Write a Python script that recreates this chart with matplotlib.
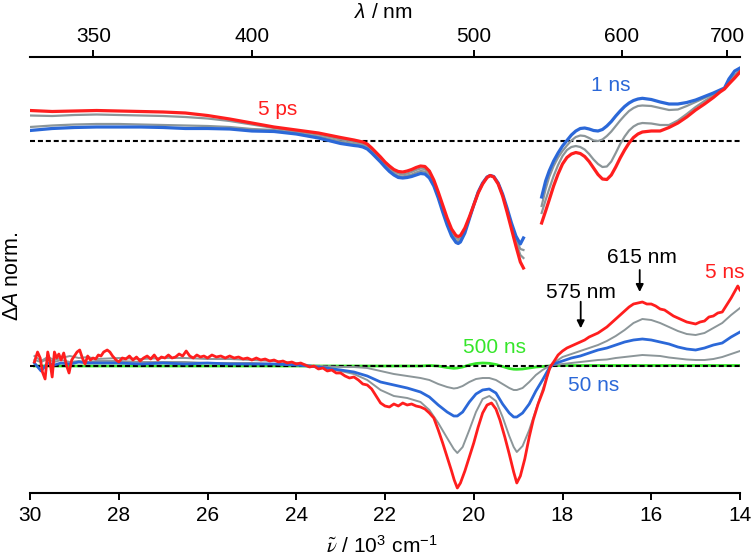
import numpy as np
import matplotlib
matplotlib.use("Agg")
import matplotlib.pyplot as plt

plt.rcParams['font.family'] = ['Liberation Sans', 'DejaVu Sans']
plt.rcParams['mathtext.fontset'] = 'custom'
plt.rcParams['mathtext.rm'] = 'Liberation Sans'
plt.rcParams['mathtext.it'] = 'Liberation Sans:italic'

# ---------------- data ----------------
x_ticks = [30, 28, 26, 24, 22, 20, 18, 16, 14]
lam_ticks = [350, 400, 500, 600, 700]

# top panel (5 ps ... 1 ns), blue-side segment
nu_tl = [30.0, 29.5, 29.0, 28.5, 28.0, 27.5, 27.0, 26.5, 26.0, 25.5,
         25.0, 24.5, 24.0, 23.5, 23.0,
         22.7, 22.6, 22.5, 22.4, 22.3, 22.2, 22.1, 22.0, 21.9, 21.8,
         21.7, 21.6, 21.5, 21.4, 21.3, 21.2, 21.1, 21.0, 20.9, 20.8,
         20.7, 20.6, 20.5, 20.4, 20.35, 20.3, 20.2, 20.1, 20.0, 19.9,
         19.8, 19.7, 19.63, 19.55, 19.45, 19.35, 19.25, 19.15, 19.05, 18.95,
         18.88]
red_tl = [0.305, 0.295, 0.300, 0.305, 0.300, 0.295, 0.290, 0.280, 0.255, 0.220,
          0.180, 0.140, 0.110, 0.080, 0.035,
          0.010, 0.000, -0.010, -0.030, -0.070, -0.115, -0.160, -0.210, -0.250, -0.285,
          -0.305, -0.310, -0.300, -0.285, -0.265, -0.250, -0.255, -0.300, -0.390, -0.510,
          -0.640, -0.770, -0.880, -0.945, -0.955, -0.945, -0.870, -0.760, -0.640, -0.520,
          -0.430, -0.365, -0.345, -0.360, -0.430, -0.550, -0.710, -0.880, -1.050, -1.210,
          -1.270]
grayA_tl = [0.255, 0.250, 0.260, 0.265, 0.260, 0.255, 0.250, 0.240, 0.225, 0.200,
            0.165, 0.130, 0.095, 0.065, 0.015,
            -0.010, -0.020, -0.030, -0.050, -0.090, -0.135, -0.180, -0.230, -0.270, -0.305,
            -0.325, -0.335, -0.325, -0.310, -0.290, -0.275, -0.280, -0.325, -0.410, -0.535,
            -0.665, -0.795, -0.905, -0.970, -0.980, -0.970, -0.890, -0.770, -0.640, -0.515,
            -0.425, -0.365, -0.345, -0.360, -0.425, -0.540, -0.690, -0.850, -1.010, -1.140,
            -1.170]
grayB_tl = [0.140, 0.155, 0.165, 0.170, 0.170, 0.165, 0.160, 0.155, 0.150, 0.140,
            0.120, 0.110, 0.080, 0.045, -0.005,
            -0.030, -0.035, -0.045, -0.065, -0.105, -0.150, -0.195, -0.245, -0.290, -0.325,
            -0.350, -0.355, -0.345, -0.335, -0.315, -0.300, -0.305, -0.350, -0.430, -0.555,
            -0.690, -0.820, -0.925, -0.995, -1.005, -0.990, -0.905, -0.775, -0.640, -0.510,
            -0.420, -0.360, -0.345, -0.355, -0.420, -0.535, -0.680, -0.835, -0.980, -1.080,
            -1.090]
blue_tl = [0.105, 0.125, 0.135, 0.140, 0.140, 0.140, 0.135, 0.125, 0.125, 0.120,
           0.100, 0.095, 0.070, 0.030, -0.025,
           -0.045, -0.050, -0.060, -0.080, -0.120, -0.165, -0.210, -0.260, -0.305, -0.340,
           -0.365, -0.370, -0.365, -0.355, -0.340, -0.325, -0.330, -0.370, -0.450, -0.570,
           -0.710, -0.840, -0.950, -1.015, -1.025, -1.010, -0.920, -0.780, -0.640, -0.510,
           -0.420, -0.360, -0.345, -0.355, -0.420, -0.530, -0.670, -0.820, -0.950, -1.030,
           -0.970]

# top panel, red-side segment
nu_tr = [18.47, 18.38, 18.3, 18.2, 18.1, 18.0, 17.9, 17.8, 17.7, 17.6,
         17.5, 17.4, 17.3, 17.2, 17.1, 17.0, 16.9, 16.8, 16.7, 16.6,
         16.5, 16.4, 16.3, 16.2, 16.0, 15.8, 15.6, 15.4, 15.2, 15.0,
         14.8, 14.6, 14.45, 14.35, 14.25, 14.12, 14.0]
red_tr = [-0.820, -0.700, -0.590, -0.450, -0.330, -0.230, -0.165, -0.130, -0.115, -0.125,
          -0.155, -0.205, -0.270, -0.335, -0.380, -0.385, -0.340, -0.260, -0.170, -0.090,
          -0.020, 0.035, 0.070, 0.090, 0.100, 0.100, 0.135, 0.180, 0.240, 0.310,
          0.370, 0.435, 0.490, 0.520, 0.570, 0.630, 0.690]
grayA_tr = [-0.720, -0.590, -0.480, -0.350, -0.240, -0.150, -0.090, -0.060, -0.050, -0.060,
            -0.085, -0.130, -0.185, -0.230, -0.260, -0.255, -0.205, -0.120, -0.030, 0.045,
            0.105, 0.145, 0.170, 0.180, 0.175, 0.160, 0.160, 0.205, 0.270, 0.340,
            0.400, 0.455, 0.500, 0.525, 0.590, 0.650, 0.700]
grayB_tr = [-0.650, -0.480, -0.360, -0.250, -0.165, -0.100, -0.045, 0.005, 0.040, 0.055,
            0.050, 0.030, 0.005, 0.000, 0.015, 0.050, 0.095, 0.150, 0.205, 0.255,
            0.300, 0.330, 0.350, 0.355, 0.350, 0.330, 0.310, 0.315, 0.350, 0.390,
            0.430, 0.470, 0.500, 0.525, 0.600, 0.660, 0.710]
blue_tr = [-0.560, -0.400, -0.300, -0.200, -0.120, -0.050, 0.005, 0.060, 0.100, 0.125,
           0.130, 0.120, 0.105, 0.100, 0.115, 0.150, 0.195, 0.250, 0.300, 0.345,
           0.380, 0.405, 0.420, 0.427, 0.415, 0.390, 0.370, 0.370, 0.385, 0.410,
           0.445, 0.480, 0.510, 0.530, 0.620, 0.700, 0.730]

# bottom panel (ns), 5 ns trace
nu_red_ns = [29.90, 29.83, 29.77, 29.72, 29.66, 29.60, 29.55, 29.50, 29.45, 29.40,
             29.35, 29.30, 29.24, 29.18, 29.12, 29.06, 29.00, 28.94, 28.88, 28.82,
             28.76, 28.70, 28.64, 28.58, 28.52, 28.46, 28.40, 28.34, 28.26, 28.20,
             28.14, 28.06, 28.00, 27.92, 27.84, 27.76, 27.68, 27.60, 27.52, 27.44,
             27.36, 27.28, 27.20, 27.12, 27.04, 26.96, 26.88, 26.80, 26.72, 26.64,
             26.56, 26.48, 26.40, 26.32, 26.24, 26.16, 26.08, 26.00, 25.90, 25.80,
             25.70, 25.60, 25.50, 25.40, 25.30, 25.20, 25.10, 25.00, 24.90, 24.80,
             24.70, 24.60, 24.50, 24.40, 24.30, 24.20, 24.10, 24.00, 23.90, 23.80,
             23.70, 23.60, 23.50, 23.40, 23.30, 23.20, 23.10, 23.00, 22.90, 22.80,
             22.70, 22.60, 22.50, 22.40, 22.30, 22.20, 22.10, 22.00, 21.90, 21.80,
             21.70, 21.60, 21.50, 21.40, 21.30, 21.20, 21.10, 21.00, 20.90, 20.80,
             20.70, 20.60, 20.50, 20.44, 20.37, 20.30, 20.20, 20.10, 20.00, 19.90,
             19.80, 19.70, 19.60, 19.50, 19.41, 19.30, 19.20, 19.10, 19.03, 18.95,
             18.85, 18.75, 18.66, 18.55, 18.43, 18.35, 18.28, 18.20, 18.10, 18.00,
             17.90, 17.80, 17.70, 17.60, 17.50, 17.40, 17.30, 17.20, 17.10, 17.00,
             16.90, 16.80, 16.70, 16.60, 16.50, 16.40, 16.30, 16.20, 16.10, 16.00,
             15.90, 15.80, 15.70, 15.60, 15.50, 15.40, 15.30, 15.20, 15.10, 15.00,
             14.90, 14.80, 14.70, 14.60, 14.50, 14.40, 14.30, 14.20, 14.10, 14.05,
             14.00]
red_ns = [0.04, 0.14, 0.08, -0.06, -0.13, 0.14, 0.04, -0.11, 0.14, 0.08,
          0.12, 0.06, 0.13, 0.01, -0.07, 0.06, 0.10, 0.14, 0.16, 0.08,
          0.02, 0.10, 0.06, 0.08, 0.07, 0.11, 0.10, 0.14, 0.16, 0.14,
          0.10, 0.06, 0.04, 0.08, 0.07, 0.10, 0.06, 0.09, 0.05, 0.08,
          0.10, 0.07, 0.11, 0.06, 0.09, 0.08, 0.11, 0.08, 0.09, 0.12,
          0.10, 0.15, 0.10, 0.08, 0.11, 0.09, 0.10, 0.08, 0.11, 0.09,
          0.10, 0.08, 0.10, 0.08, 0.09, 0.07, 0.08, 0.06, 0.08, 0.06,
          0.07, 0.05, 0.06, 0.04, 0.05, 0.03, 0.04, 0.02, 0.03, 0.01,
          -0.01, 0.00, -0.03, -0.02, -0.05, -0.04, -0.07, -0.07, -0.10, -0.12,
          -0.11, -0.14, -0.18, -0.19, -0.23, -0.30, -0.37, -0.40, -0.41, -0.38,
          -0.40, -0.37, -0.39, -0.38, -0.40, -0.41, -0.43, -0.47, -0.52, -0.64,
          -0.77, -0.91, -1.05, -1.14, -1.22, -1.17, -1.05, -0.91, -0.77, -0.61,
          -0.47, -0.39, -0.37, -0.43, -0.54, -0.71, -0.88, -1.06, -1.17, -1.10,
          -0.93, -0.71, -0.54, -0.38, -0.24, -0.11, -0.01, 0.04, 0.11, 0.15,
          0.18, 0.20, 0.22, 0.24, 0.26, 0.29, 0.31, 0.33, 0.36, 0.39,
          0.43, 0.47, 0.51, 0.55, 0.59, 0.62, 0.63, 0.64, 0.62, 0.62,
          0.60, 0.57, 0.56, 0.53, 0.50, 0.48, 0.46, 0.44, 0.43, 0.42,
          0.44, 0.45, 0.49, 0.50, 0.53, 0.54, 0.61, 0.68, 0.76, 0.80,
          0.76]

# bottom panel, other traces
nu_ns = [29.9, 29.75, 29.6, 29.45, 29.3, 29.1, 28.9, 28.7, 28.5, 28.0,
         27.5, 27.0, 26.5, 26.0, 25.5, 25.0, 24.5, 24.0, 23.5, 23.0,
         22.7, 22.4, 22.1, 21.8, 21.5, 21.2, 21.0, 20.8, 20.6, 20.45,
         20.37, 20.25, 20.1, 19.95, 19.8, 19.65, 19.5, 19.35, 19.2, 19.1,
         19.03, 18.9, 18.75, 18.6, 18.45, 18.3, 18.2, 18.0, 17.8, 17.6,
         17.4, 17.2, 17.0, 16.8, 16.6, 16.4, 16.2, 16.0, 15.8, 15.6,
         15.4, 15.2, 15.0, 14.8, 14.6, 14.4, 14.2, 14.0]
grayA_ns = [0.10, 0.05, 0.09, 0.06, 0.08, 0.10, 0.08, 0.09, 0.07, 0.08,
            0.07, 0.08, 0.08, 0.07, 0.07, 0.06, 0.05, 0.03, -0.01, -0.05,
            -0.08, -0.14, -0.24, -0.30, -0.32, -0.36, -0.44, -0.57, -0.72, -0.83,
            -0.87, -0.81, -0.64, -0.46, -0.33, -0.30, -0.35, -0.51, -0.70, -0.81,
            -0.86, -0.80, -0.64, -0.44, -0.24, -0.04, 0.03, 0.09, 0.12, 0.15,
            0.18, 0.21, 0.25, 0.30, 0.36, 0.43, 0.47, 0.46, 0.43, 0.39,
            0.35, 0.32, 0.31, 0.33, 0.38, 0.43, 0.51, 0.58]
blue_ns = [0.03, -0.05, 0.03, 0.01, 0.03, 0.02, 0.04, 0.03, 0.03, 0.03,
           0.02, 0.03, 0.02, 0.03, 0.02, 0.02, 0.02, 0.01, -0.01, -0.04,
           -0.06, -0.10, -0.16, -0.19, -0.22, -0.26, -0.31, -0.39, -0.46, -0.50,
           -0.50, -0.46, -0.36, -0.28, -0.24, -0.23, -0.27, -0.38, -0.47, -0.51,
           -0.51, -0.47, -0.38, -0.25, -0.14, -0.02, 0.02, 0.05, 0.08, 0.10,
           0.13, 0.16, 0.18, 0.21, 0.24, 0.26, 0.27, 0.26, 0.24, 0.22,
           0.19, 0.17, 0.16, 0.18, 0.21, 0.23, 0.29, 0.34]
grayB_ns = [0.06, 0.04, 0.07, 0.04, 0.06, 0.04, 0.05, 0.04, 0.05, 0.05,
            0.04, 0.04, 0.04, 0.03, 0.03, 0.03, 0.02, 0.01, 0.00, -0.01,
            -0.01, -0.02, -0.05, -0.08, -0.10, -0.12, -0.14, -0.18, -0.21, -0.225,
            -0.22, -0.20, -0.16, -0.13, -0.12, -0.12, -0.14, -0.18, -0.22, -0.24,
            -0.24, -0.22, -0.16, -0.09, -0.04, 0.00, 0.01, 0.02, 0.03, 0.04,
            0.05, 0.06, 0.065, 0.08, 0.09, 0.10, 0.11, 0.105, 0.10, 0.085,
            0.075, 0.065, 0.06, 0.06, 0.07, 0.09, 0.12, 0.15]
green_ns = [0.0, 0.0, 0.0, 0.0, 0.0, 0.0, 0.0, 0.0, 0.0, 0.0,
            0.0, 0.0, 0.0, 0.0, 0.0, 0.0, 0.0, 0.0, 0.0, 0.0,
            0.0, 0.0, 0.0, 0.0, 0.0, 0.0, 0.005, 0.0, -0.015, -0.023,
            -0.02, -0.01, 0.01, 0.025, 0.03, 0.027, 0.015, -0.005, -0.025, -0.032,
            -0.033, -0.03, -0.02, -0.01, -0.005, 0.0, 0.005, 0.005, 0.005, 0.005,
            0.005, 0.005, 0.005, 0.005, 0.005, 0.005, 0.005, 0.005, 0.005, 0.005,
            0.005, 0.005, 0.005, 0.005, 0.005, 0.005, 0.005, 0.005]

# ---------------- style ----------------
RED = '#ff1e1e'
BLUE = '#2b68d8'
GRAY = '#8c9699'
GREEN = '#35e62a'
TOP_OFF = 2.25
FS = 15

W, H = 754, 556
fig = plt.figure(figsize=(W / 100, H / 100), dpi=100)
ax = fig.add_axes([30 / W, (H - 492.7) / H, 710 / W, 436 / H])
ax.set_xlim(30, 14)
ax.set_ylim(-1.267, 3.093)

# baselines
dash = dict(color='k', lw=1.5, dashes=(2.4, 1.4), zorder=3)
ax.axhline(TOP_OFF, **dash)

# top panel traces
for nu, ys in ((nu_tl, (grayA_tl, grayB_tl, blue_tl, red_tl)),
               (nu_tr, (grayA_tr, grayB_tr, blue_tr, red_tr))):
    ga, gb, bl, rd = ys
    ax.plot(nu, np.asarray(ga) + TOP_OFF, color=GRAY, lw=1.6, zorder=4,
            solid_joinstyle='round')
    ax.plot(nu, np.asarray(gb) + TOP_OFF, color=GRAY, lw=1.6, zorder=4,
            solid_joinstyle='round')
    ax.plot(nu, np.asarray(bl) + TOP_OFF, color=BLUE, lw=2.3, zorder=5,
            solid_joinstyle='round')
    ax.plot(nu, np.asarray(rd) + TOP_OFF, color=RED, lw=2.3, zorder=6,
            solid_joinstyle='round')

# bottom panel traces
ax.plot(nu_ns, green_ns, color=GREEN, lw=2.0, zorder=2)
ax.axhline(0, **dash)
ax.plot(nu_ns, grayA_ns, color=GRAY, lw=1.4, zorder=4)
ax.plot(nu_ns, grayB_ns, color=GRAY, lw=1.4, zorder=4)
ax.plot(nu_ns, blue_ns, color=BLUE, lw=2.0, zorder=5)
ax.plot(nu_red_ns, red_ns, color=RED, lw=2.0, zorder=6)

# axes styling
for s in ('left', 'right', 'top'):
    ax.spines[s].set_visible(False)
ax.spines['bottom'].set_linewidth(1.5)
ax.set_yticks([])
ax.set_xticks(x_ticks)
ax.set_xticklabels([str(v) for v in x_ticks])
ax.tick_params(axis='x', direction='out', length=5, width=1.4,
               labelsize=FS, pad=4.3)


def nu2lam(x):
    x = np.asarray(x, dtype=float)
    with np.errstate(divide='ignore', invalid='ignore'):
        return 1e4 / x


sec = ax.secondary_xaxis('top', functions=(nu2lam, nu2lam))
sec.set_xticks(lam_ticks)
sec.set_xticklabels([str(v) for v in lam_ticks])
sec.tick_params(axis='x', direction='out', length=5, width=1.4,
                labelsize=FS, pad=3)
sec.spines['top'].set_linewidth(1.5)

# axis labels
fig.text(383 / W, 1 - 18.3 / H, r'$\lambda$ / nm', ha='center', va='baseline',
         fontsize=FS)
fig.text(382 / W, 1 - 553 / H,
         r'$\tilde{\nu}$ / 10$^{\mathregular{3}}$ cm$^{\mathregular{-1}}$',
         ha='center', va='baseline', fontsize=FS, math_fontfamily='stix')
fig.text(13 / W, 1 - 276 / H, r'$\Delta\mathit{A}$ norm.', rotation=90,
         ha='center', va='center', fontsize=15.5)

# annotations
ax.text(24.41, 2.51, '5 ps', color=RED, fontsize=FS, ha='center', va='baseline')
ax.text(16.91, 2.753, '1 ns', color=BLUE, fontsize=FS, ha='center', va='baseline')
ax.text(16.21, 1.033, '615 nm', color='k', fontsize=FS, ha='center', va='baseline')
ax.text(14.34, 0.88, '5 ns', color=RED, fontsize=FS, ha='center', va='baseline')
ax.text(17.58, 0.677, '575 nm', color='k', fontsize=FS, ha='center', va='baseline')
ax.text(19.54, 0.133, '500 ns', color=GREEN, fontsize=FS, ha='center', va='baseline')
ax.text(17.29, -0.25, '50 ns', color=BLUE, fontsize=FS, ha='center', va='baseline')

arrow = dict(arrowstyle='-|>', color='k', lw=1.3, mutation_scale=11,
             shrinkA=0, shrinkB=0)
ax.annotate('', xy=(16.26, 0.74), xytext=(16.26, 0.96), arrowprops=arrow)
ax.annotate('', xy=(17.59, 0.377), xytext=(17.59, 0.643), arrowprops=arrow)

fig.savefig('out.png', dpi=100)
